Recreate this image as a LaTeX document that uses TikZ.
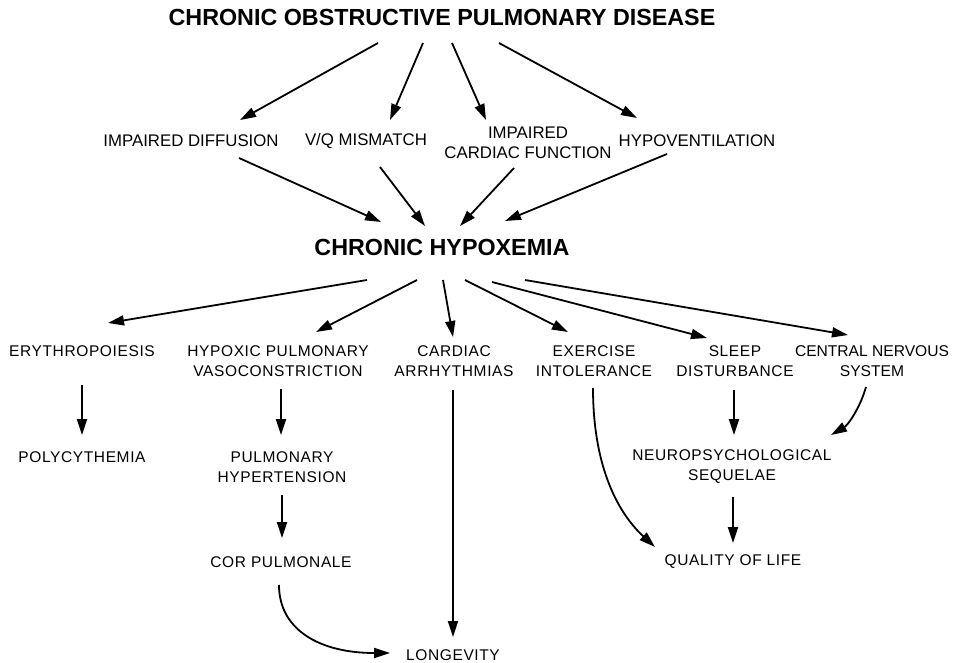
\documentclass[tikz,border=0pt]{standalone}
\usepackage{fontspec}
\setmainfont{Liberation Sans}
\newfontfamily\spacedfont{Liberation Sans}[LetterSpace=4]
\usetikzlibrary{arrows.meta}
\tikzset{
  x=1pt, y=-1pt,
  titlebox/.style={font=\fontsize{23.3}{26}\selectfont\bfseries, inner sep=0pt},
  midbox/.style={font=\fontsize{16.8}{20}\selectfont, align=center, inner sep=0pt},
  cnsbox/.style={font=\fontsize{15.6}{20}\selectfont, align=center, inner sep=0pt},
  lowbox/.style={font=\spacedfont\fontsize{15.5}{20}\selectfont, align=center, inner sep=0pt},
  arr/.style={line width=1.8pt, -{Triangle[length=16pt,width=10pt]}}
}
\begin{document}
\begin{tikzpicture}
\useasboundingbox[fill=white] (0,0) rectangle (953,663);
% nodes
\node[titlebox] (copd) at (442,17) {CHRONIC OBSTRUCTIVE PULMONARY DISEASE};
\node[midbox] (diff) at (191,141) {IMPAIRED DIFFUSION};
\node[midbox] (vq) at (366,141) {V/Q MISMATCH};
\node[midbox] (card) at (528,143) {IMPAIRED\\CARDIAC FUNCTION};
\node[midbox] (hypo) at (697,141) {HYPOVENTILATION};
\node[titlebox] (hyp) at (442,247) {CHRONIC HYPOXEMIA};
\node[lowbox] (ery) at (82,351) {ERYTHROPOIESIS};
\node[lowbox] (hpv) at (278,361) {HYPOXIC PULMONARY\\VASOCONSTRICTION};
\node[lowbox] (arr) at (454,361) {CARDIAC\\ARRHYTHMIAS};
\node[lowbox] (exer) at (594,361) {EXERCISE\\INTOLERANCE};
\node[lowbox] (sleep) at (735,361) {SLEEP\\DISTURBANCE};
\node[cnsbox] (cns) at (872,361) {CENTRAL NERVOUS\\SYSTEM};
\node[lowbox] (poly) at (82,457) {POLYCYTHEMIA};
\node[lowbox] (phtn) at (282,467) {PULMONARY\\HYPERTENSION};
\node[lowbox] (cor) at (281,562) {COR PULMONALE};
\node[lowbox] (neuro) at (732,467) {NEUROPSYCHOLOGICAL\\SEQUELAE};
\node[lowbox] (qol) at (733,562) {QUALITY OF LIFE};
\node[lowbox] (long) at (453,655) {LONGEVITY};
% COPD -> mechanisms
\draw[arr] ([shift={(-64,26)}]copd.center) -- ([shift={(49,-21)}]diff.center);
\draw[arr] ([shift={(-19,26)}]copd.center) -- ([shift={(24,-21)}]vq.center);
\draw[arr] ([shift={(10,26)}]copd.center) -- ([shift={(-42,-23)}]card.center);
\draw[arr] ([shift={(57,26)}]copd.center) -- ([shift={(-60,-23)}]hypo.center);
% mechanisms -> hypoxemia
\draw[arr] ([shift={(48,17)}]diff.center) -- ([shift={(-61,-25)}]hyp.center);
\draw[arr] ([shift={(14,26)}]vq.center) -- ([shift={(-17,-21)}]hyp.center);
\draw[arr] ([shift={(-14,25)}]card.center) -- ([shift={(18,-21)}]hyp.center);
\draw[arr] ([shift={(-30,13)}]hypo.center) -- ([shift={(63,-26)}]hyp.center);
% hypoxemia -> consequences
\draw[arr] ([shift={(-75,33)}]hyp.center) -- ([shift={(26,-28)}]ery.center);
\draw[arr] ([shift={(-25,33)}]hyp.center) -- ([shift={(38,-29)}]hpv.center);
\draw[arr] ([shift={(1,33)}]hyp.center) -- ([shift={(-1,-24)}]arr.center);
\draw[arr] ([shift={(23,33)}]hyp.center) -- ([shift={(-26,-29)}]exer.center);
\draw[arr] ([shift={(50,35)}]hyp.center) -- ([shift={(-28,-23)}]sleep.center);
\draw[arr] ([shift={(83,33)}]hyp.center) -- ([shift={(-24,-26)}]cns.center);
% lower chains
\draw[arr] ([shift={(0,34)}]ery.center) -- ([shift={(0,-22)}]poly.center);
\draw[arr] ([shift={(3,28)}]hpv.center) -- ([shift={(-1,-32)}]phtn.center);
\draw[arr] ([shift={(0,28)}]phtn.center) -- ([shift={(1,-24)}]cor.center);
\draw[arr] ([shift={(-2,23)}]cor.center) .. controls ([shift={(-2,68)}]cor.center) and ([shift={(-133,-2)}]long.center) .. ([shift={(-63,-2)}]long.center);
\draw[arr] ([shift={(-1,29)}]arr.center) -- ([shift={(0,-18)}]long.center);
\draw[arr] ([shift={(-1,27)}]exer.center) .. controls ([shift={(-1,109)}]exer.center) and ([shift={(-113,-47)}]qol.center) .. ([shift={(-78,-15)}]qol.center);
\draw[arr] ([shift={(-1,29)}]sleep.center) -- ([shift={(2,-32)}]neuro.center);
\draw[arr] ([shift={(-6,26)}]cns.center) .. controls ([shift={(-12,47)}]cns.center) and ([shift={(-24,64)}]cns.center) .. ([shift={(-41,74)}]cns.center);
\draw[arr] ([shift={(1,30)}]neuro.center) -- ([shift={(0,-19)}]qol.center);
\end{tikzpicture}
\end{document}
